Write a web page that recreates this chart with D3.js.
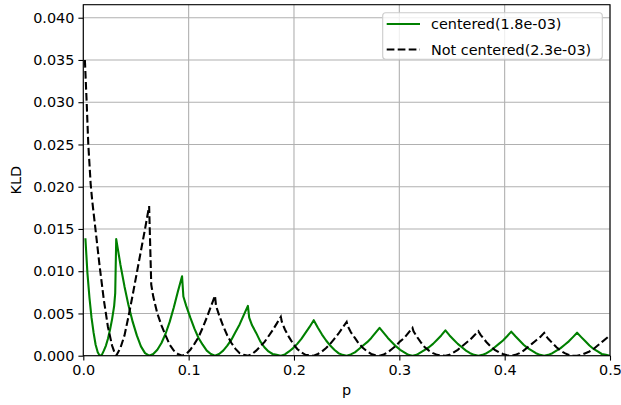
<!DOCTYPE html>
<html>
<head>
<meta charset="utf-8">
<script src="https://cdn.jsdelivr.net/npm/d3@7"></script>
<style>
  body { margin: 0; background: #fff; }
  svg { font-family: "DejaVu Sans", sans-serif; }
</style>
</head>
<body>
<svg id="chart_svg" width="621" height="405"></svg>
<script>
// sample points
const pGreen = [
  0.002, 0.0039, 0.0059, 0.0078, 0.0098, 0.0117, 0.0137, 0.0156,
  0.0176, 0.0195, 0.0215, 0.0234, 0.0254, 0.0273, 0.0293, 0.0303, 0.03125,
  0.0352, 0.0391, 0.0430, 0.0469, 0.0508, 0.0547, 0.0586, 0.0625,
  0.0664, 0.0703, 0.0742, 0.0781, 0.0820, 0.0859, 0.0898, 0.09375, 0.0950,
  0.0977, 0.1016, 0.1055, 0.1094, 0.1133, 0.1172, 0.1211, 0.125,
  0.1289, 0.1328, 0.1367, 0.1406, 0.1445, 0.1484, 0.1523, 0.15625, 0.1575,
  0.1602, 0.1641, 0.1680, 0.1719, 0.1758, 0.1797, 0.1836, 0.1875,
  0.1914, 0.1953, 0.1992, 0.2031, 0.2070, 0.2109, 0.2148, 0.21875,
  0.2227, 0.2266, 0.2305, 0.2344, 0.2383, 0.2422, 0.2461, 0.25,
  0.2539, 0.2578, 0.2617, 0.2656, 0.2695, 0.2734, 0.2773, 0.28125,
  0.2852, 0.2891, 0.2930, 0.2969, 0.3008, 0.3047, 0.3086, 0.3125,
  0.3164, 0.3203, 0.3242, 0.3281, 0.3320, 0.3359, 0.3398, 0.34375,
  0.3477, 0.3516, 0.3555, 0.3594, 0.3633, 0.3672, 0.3711, 0.375,
  0.3789, 0.3828, 0.3867, 0.3906, 0.3945, 0.3984, 0.4023, 0.40625,
  0.4102, 0.4141, 0.4180, 0.4219, 0.4258, 0.4297, 0.4336, 0.4375,
  0.4414, 0.4453, 0.4492, 0.4531, 0.4570, 0.4609, 0.4648, 0.46875,
  0.4727, 0.4766, 0.4805, 0.4844, 0.4883, 0.4922, 0.4961, 0.5
];
const kldGreen = [
  0.0139, 0.0098, 0.0068, 0.0045, 0.0027, 0.0013, 0.0004, 0,
  0.0001, 0.0006, 0.0012, 0.0020, 0.0031, 0.0043, 0.0059, 0.0074, 0.0138,
  0.0108, 0.0082, 0.0059, 0.0040, 0.0024, 0.0011, 0.0003, 0,
  0.0002, 0.0007, 0.0015, 0.0026, 0.0040, 0.0057, 0.0076, 0.0094, 0.0070,
  0.0059, 0.0045, 0.0032, 0.0021, 0.0013, 0.0006, 0.0002, 0,
  0.0002, 0.0006, 0.0012, 0.0019, 0.0028, 0.0037, 0.0048, 0.0059, 0.0045,
  0.0036, 0.0027, 0.0017, 0.0010, 0.0005, 0.0002, 0.0001, 0,
  0.00015, 0.0005, 0.0009, 0.0014, 0.0020, 0.0027, 0.0034, 0.0042,
  0.0033, 0.0025, 0.0018, 0.0012, 0.0007, 0.0003, 0.0001, 0,
  0.00015, 0.0004, 0.0008, 0.0012, 0.0016, 0.0021, 0.0027, 0.0033,
  0.0027, 0.0021, 0.0016, 0.0011, 0.0007, 0.0004, 0.0001, 0,
  0.0001, 0.0004, 0.0007, 0.0010, 0.0014, 0.0019, 0.0024, 0.0030,
  0.0024, 0.0019, 0.0014, 0.0010, 0.0006, 0.0003, 0.0001, 0,
  0.0001, 0.0003, 0.0006, 0.0010, 0.0014, 0.0018, 0.0023, 0.00285,
  0.0023, 0.0018, 0.0013, 0.0009, 0.0006, 0.0003, 0.0001, 0,
  0.0001, 0.0003, 0.0006, 0.0009, 0.0013, 0.0017, 0.0022, 0.00272,
  0.0022, 0.0017, 0.0012, 0.0008, 0.0005, 0.0002, 0.0001, 0
];

const pDashed = [
  0.0015, 0.0032, 0.0047, 0.0070, 0.0085, 0.0117, 0.0156, 0.0195, 0.0234, 0.0273, 0.0293, 0.03125,
  0.0352, 0.0391, 0.0430, 0.0469, 0.0508, 0.0547, 0.0586, 0.0625, 0.0645,
  0.0664, 0.0703, 0.0742, 0.0781, 0.0820, 0.0859, 0.0898, 0.09375,
  0.0977, 0.1016, 0.1055, 0.1094, 0.1133, 0.1172, 0.1211, 0.125, 0.1260,
  0.1289, 0.1328, 0.1367, 0.1406, 0.1445, 0.1484, 0.1523, 0.15625,
  0.1602, 0.1641, 0.1680, 0.1719, 0.1758, 0.1797, 0.1836, 0.1875, 0.1885,
  0.1914, 0.1953, 0.1992, 0.2031, 0.2070, 0.2109, 0.2148, 0.21875,
  0.2227, 0.2266, 0.2305, 0.2344, 0.2383, 0.2422, 0.2461, 0.25, 0.2510,
  0.2539, 0.2578, 0.2617, 0.2656, 0.2695, 0.2734, 0.2773, 0.28125,
  0.2852, 0.2891, 0.2930, 0.2969, 0.3008, 0.3047, 0.3086, 0.3125, 0.3135,
  0.3164, 0.3203, 0.3242, 0.3281, 0.3320, 0.3359, 0.3398, 0.34375,
  0.3477, 0.3516, 0.3555, 0.3594, 0.3633, 0.3672, 0.3711, 0.375, 0.3770,
  0.3789, 0.3828, 0.3867, 0.3906, 0.3945, 0.3984, 0.4023, 0.40625,
  0.4102, 0.4141, 0.4180, 0.4219, 0.4258, 0.4297, 0.4336, 0.4375, 0.4395,
  0.4414, 0.4453, 0.4492, 0.4531, 0.4570, 0.4609, 0.4648, 0.46875,
  0.4727, 0.4766, 0.4805, 0.4844, 0.4883, 0.4922, 0.4961, 0.5
];
const kldDashed = [
  0.0350, 0.0300, 0.0251, 0.0203, 0.0183, 0.0148, 0.0105, 0.0066, 0.0034, 0.0012, 0.0005, 0,
  0.0009, 0.0024, 0.0047, 0.0072, 0.0098, 0.0124, 0.0150, 0.0177, 0.0084,
  0.0070, 0.0050, 0.0036, 0.0024, 0.0013, 0.0006, 0.0002, 0,
  0.0002, 0.0007, 0.0014, 0.0022, 0.0033, 0.0045, 0.0058, 0.0071, 0.0059,
  0.0048, 0.0035, 0.0024, 0.0015, 0.0008, 0.0003, 0.0001, 0,
  0.0002, 0.0006, 0.0011, 0.0016, 0.0023, 0.0030, 0.0038, 0.0046, 0.0040,
  0.0031, 0.0022, 0.0014, 0.0008, 0.0004, 0.0001, 0.00003, 0,
  0.0002, 0.0005, 0.0009, 0.0014, 0.0020, 0.0026, 0.0033, 0.0040, 0.0035,
  0.0028, 0.0021, 0.0014, 0.0009, 0.0005, 0.0002, 0.00005, 0,
  0.00015, 0.0004, 0.0008, 0.0012, 0.0017, 0.0021, 0.0027, 0.0033, 0.0029,
  0.0023, 0.0016, 0.0010, 0.0006, 0.0003, 0.0001, 0.00002, 0,
  0.0001, 0.0004, 0.0007, 0.0011, 0.0015, 0.0019, 0.0024, 0.0029, 0.0025,
  0.0022, 0.0016, 0.0011, 0.0007, 0.0004, 0.0002, 0.00004, 0,
  0.0001, 0.0003, 0.0006, 0.0010, 0.0014, 0.0018, 0.0022, 0.0027, 0.0023,
  0.0020, 0.0015, 0.0010, 0.0006, 0.0003, 0.0001, 0.00003, 0,
  0.0001, 0.0003, 0.0005, 0.0008, 0.0012, 0.0016, 0.0020, 0.0024
];

const seriesNames = ["centered(1.8e-03)", "Not centered(2.3e-03)"];
const xTicks = [0.0, 0.1, 0.2, 0.3, 0.4, 0.5];
const yTicks = [0.000, 0.005, 0.010, 0.015, 0.020, 0.025, 0.030, 0.035, 0.040];

const svg = d3.select("#chart_svg");
const margin = { top: 4.7, bottom: 49.3, left: 83.3, right: 11 };
const width = 621, height = 405;
const innerW = width - margin.left - margin.right;
const innerH = height - margin.top - margin.bottom;
const fontSize = "14.4px";

const xScale = d3.scaleLinear().domain([0, 0.5]).range([0, innerW]);
const yScale = d3.scaleLinear().domain([0, 0.04154]).range([innerH, 0]);

const g = svg.append("g").attr("transform", `translate(${margin.left},${margin.top})`);

g.append("defs").append("clipPath").attr("id", "clip_axes")
  .append("rect").attr("width", innerW).attr("height", innerH);

// grid
g.append("g").selectAll("line").data(xTicks).enter().append("line")
  .attr("x1", d => xScale(d)).attr("x2", d => xScale(d))
  .attr("y1", 0).attr("y2", innerH)
  .attr("stroke", "#b0b0b0").attr("stroke-width", 1.1);
g.append("g").selectAll("line").data(yTicks).enter().append("line")
  .attr("x1", 0).attr("x2", innerW)
  .attr("y1", d => yScale(d)).attr("y2", d => yScale(d))
  .attr("stroke", "#b0b0b0").attr("stroke-width", 1.1);

// lines
const line = d3.line().x(d => xScale(d[0])).y(d => yScale(d[1]));
const greenData = pGreen.map((p, i) => [p, kldGreen[i]]);
const dashedData = pDashed.map((p, i) => [p, kldDashed[i]]);

const g_lines = g.append("g").attr("clip-path", "url(#clip_axes)");
g_lines.append("path").datum(greenData)
  .attr("d", line).attr("fill", "none")
  .attr("stroke", "#008000").attr("stroke-width", 2.1)
  .attr("stroke-linejoin", "round");
g_lines.append("path").datum(dashedData)
  .attr("d", line).attr("fill", "none")
  .attr("stroke", "#000").attr("stroke-width", 2.1)
  .attr("stroke-dasharray", "7.7,3.3");

// axes
const x_axis = d3.axisBottom(xScale).tickValues(xTicks).tickFormat(d3.format(".1f"))
  .tickSizeInner(4.9).tickSizeOuter(0).tickPadding(4);
const y_axis = d3.axisLeft(yScale).tickValues(yTicks).tickFormat(d3.format(".3f"))
  .tickSizeInner(4.9).tickSizeOuter(0).tickPadding(4);

const gx = g.append("g").attr("transform", `translate(0,${innerH})`).call(x_axis);
const gy = g.append("g").call(y_axis);
[gx, gy].forEach(a => {
  a.select(".domain").remove();
  a.selectAll(".tick line").attr("stroke", "#000").attr("stroke-width", 1.1);
  a.selectAll(".tick text").attr("fill", "#000")
    .style("font-size", fontSize).style("font-family", "DejaVu Sans");
});

// frame
g.append("rect").attr("width", innerW).attr("height", innerH)
  .attr("fill", "none").attr("stroke", "#000").attr("stroke-width", 1.1);

// axis labels
svg.append("text").attr("x", margin.left + innerW / 2).attr("y", 395)
  .attr("text-anchor", "middle").style("font-size", fontSize).text("p");
svg.append("text").attr("transform", `translate(21,${margin.top + innerH / 2}) rotate(-90)`)
  .attr("text-anchor", "middle").style("font-size", fontSize).text("KLD");

// legend
const lg = svg.append("g");
lg.append("rect").attr("x", 382.7).attr("y", 12.7).attr("width", 219.6).attr("height", 46.6)
  .attr("rx", 3).attr("fill", "#fff").attr("fill-opacity", 0.8)
  .attr("stroke", "#cccccc").attr("stroke-width", 1.1);
const legendStyles = [
  { color: "#008000", dash: null },
  { color: "#000", dash: "7.7,3.3" }
];
seriesNames.forEach((name, i) => {
  const y = 24 + i * 25.5;
  lg.append("line").attr("x1", 386.7).attr("x2", 420).attr("y1", y).attr("y2", y)
    .attr("stroke", legendStyles[i].color).attr("stroke-width", 2.1)
    .attr("stroke-dasharray", legendStyles[i].dash);
  lg.append("text").attr("x", 431).attr("y", y + 5)
    .style("font-size", fontSize).attr("fill", "#000").text(name);
});
</script>
</body>
</html>
